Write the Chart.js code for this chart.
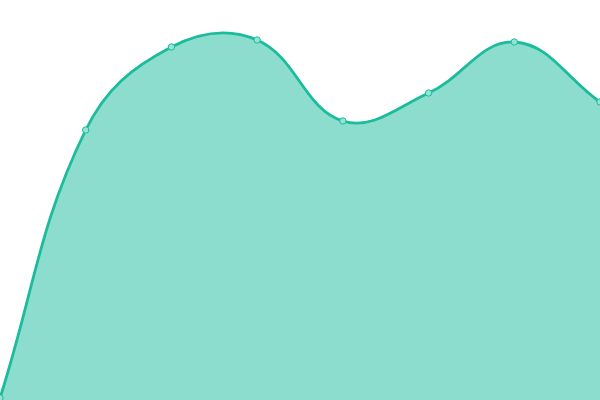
<!DOCTYPE html>
<html>
<head>
<meta charset="utf-8">
<script src="https://cdn.jsdelivr.net/npm/chart.js@4"></script>
<style>
  html, body { margin: 0; padding: 0; background: #fff; }
  #wrap { width: 600px; height: 400px; }
</style>
</head>
<body>
<div id="wrap"><canvas id="chart"></canvas></div>
<script>
const labels = ['1', '2', '3', '4', '5', '6', '7', '8'];
const values = [2, 270, 353, 360, 279, 307, 358, 298];

const lineColor = '#1abc9c';

new Chart(document.getElementById('chart'), {
    type: 'line',
    data: {
        labels: labels,
        datasets: [{
            data: values,
            borderColor: lineColor,
            backgroundColor: 'rgba(26, 188, 156, 0.5)',
            fill: true,
            tension: 0.4,
            borderWidth: 2.8,
            pointRadius: 3.2,
            pointBorderWidth: 1,
            pointBackgroundColor: '#95e3d3',
            pointBorderColor: lineColor,
        }]
    },
    options: {
        responsive: true,
        maintainAspectRatio: false,
        animation: false,
        layout: { padding: 0, autoPadding: false },
        plugins: {
            legend: { display: false },
            tooltip: { enabled: false }
        },
        scales: {
            x: { display: false },
            y: { display: false, min: 0, max: 400 }
        }
    }
});
</script>
</body>
</html>
